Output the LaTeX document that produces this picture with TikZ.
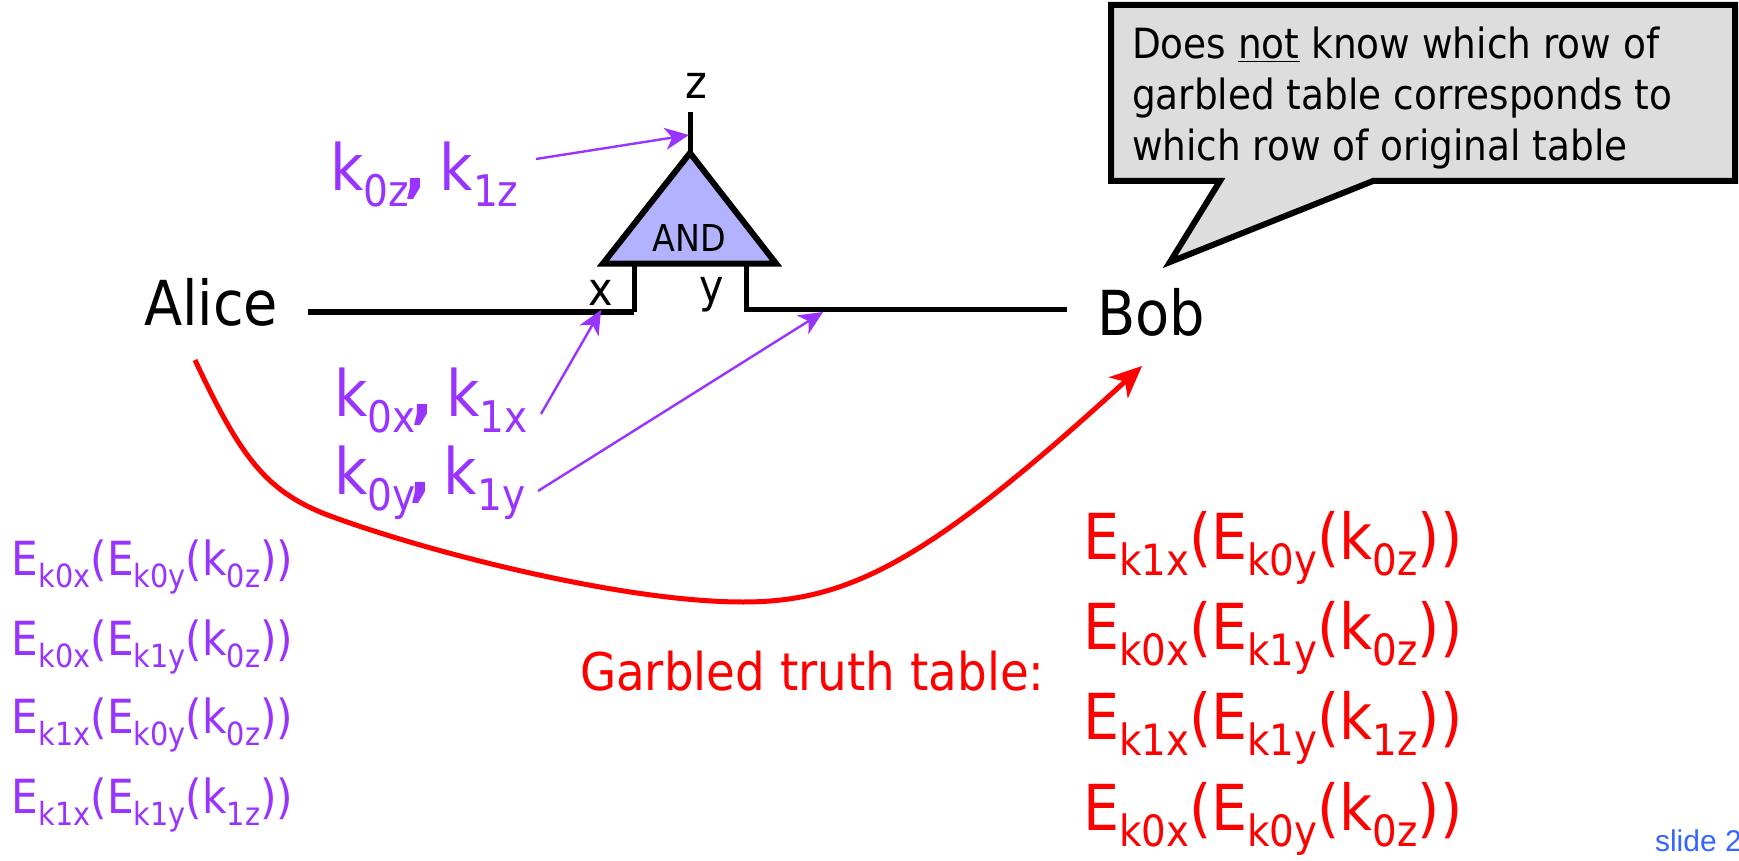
\documentclass[tikz,border=0pt]{standalone}
\usepackage{fontspec}
\usepackage{graphicx}
\usetikzlibrary{arrows.meta}
\setmainfont[FakeStretch=0.9]{DejaVu Sans}
\newfontfamily\slidefont{Liberation Sans}
\definecolor{keyc}{RGB}{153,51,255}
\definecolor{gatec}{RGB}{178,178,255}
\definecolor{notec}{RGB}{221,221,221}
\definecolor{slidec}{RGB}{51,102,255}
\newcommand{\fs}[1]{\fontsize{#1}{#1}\selectfont}
\newcommand{\lw}[1]{\raisebox{-0.26em}{\scalebox{0.68}{#1}}}
\newcommand{\Ek}[3]{E\lw{k#1}(E\lw{k#2}(k\lw{#3}))}
\newcommand{\kpair}[3]{k\lw{#1}\kern#3\textbf{,}\hspace{0.2em}k\lw{#2}}
\tikzset{
  x=1pt,y=-1pt,
  txt/.style={inner sep=0pt,outer sep=0pt,anchor=base west},
  wire/.style={draw=black,line width=5pt,line join=miter},
  keyarrow/.style={draw=keyc,line width=2.4pt,-{Stealth[length=24pt,width=22pt,inset=7pt]}},
  keytxt/.style={txt,text=keyc,font=\fs{64}},
  lefttxt/.style={txt,text=keyc,font=\fs{47}},
  righttxt/.style={txt,text=red,font=\fs{63.4}},
  wiretxt/.style={inner sep=0pt,outer sep=0pt,anchor=base,text=black,font=\fs{46}},
}
\begin{document}
\begin{tikzpicture}
\useasboundingbox (0,0) rectangle (1739,861);
% gate
\coordinate (zt) at (690,112);
\coordinate (ap) at (690,153);
\coordinate (gl) at (603,263.5);
\coordinate (gr) at (776,263.5);
\coordinate (xt) at (634,263.5);
\coordinate (xc) at (634,312);
\coordinate (xe) at (308,312);
\coordinate (yt) at (746,263.5);
\coordinate (yc) at (746,309);
\coordinate (ye) at (1067,309);
\draw[wire] (zt) -- (ap);
\draw[wire] (xt) -- (xc);
\draw[wire,line width=6pt] (xe) -- (xc);
\draw[wire] (yt) -- (yc) -- (ye);
\draw[wire,line width=6pt,fill=gatec] (ap) -- (gl) -- (gr) -- cycle;
\node[wiretxt,font=\fs{37}] (andl) at (689,251) {AND};
\node[wiretxt] (zl) at (696,99) {z};
\node[wiretxt] (xl) at (601,305) {x};
\node[wiretxt] (yl) at (712,302) {y};
% parties
\node[txt,font=\fs{62}] (alice) at (144,325) {Alice};
\node[txt,font=\fs{62}] (bob) at (1097,335) {Bob};
% keys
\node[keytxt] (kz) at (330,190) {\kpair{0z}{1z}{-0.06em}};
\node[keytxt] (kx) at (334,416) {\kpair{0x}{1x}{-0.06em}};
\node[keytxt] (ky) at (334,494) {\kpair{0y}{1y}{-0.1em}};
\coordinate (kza) at (536,159);
\coordinate (kzb) at (689,135);
\coordinate (kxa) at (541,414);
\coordinate (kxb) at (601,310);
\coordinate (kya) at (538,491);
\coordinate (kyb) at (823,312);
\draw[keyarrow] (kza) -- (kzb);
\draw[keyarrow] (kxa) -- (kxb);
\draw[keyarrow] (kya) -- (kyb);
% red curve
\coordinate (ca) at (195,360);
\coordinate (cb) at (325,514);
\coordinate (cc) at (743,602);
\coordinate (cd) at (1142,366);
\draw[draw=red,line width=5pt,-{Stealth[length=32pt,width=28pt,inset=9pt]}] (ca)
  .. controls (240,456) and (265,490) .. (cb)
  .. controls (420,550) and (620,602) .. (cc)
  .. controls (850,602) and (930,560) .. (cd);
% callout
\coordinate (n1) at (1111,5);
\coordinate (n2) at (1735,5);
\coordinate (n3) at (1735,181);
\coordinate (n4) at (1373,181);
\coordinate (n5) at (1170,262);
\coordinate (n6) at (1220,181);
\coordinate (n7) at (1111,181);
\draw[wire,line width=6pt,fill=notec] (n1) -- (n2) -- (n3) -- (n4) -- (n5) -- (n6) -- (n7) -- cycle;
\node[txt,font=\fs{41.6}] (nt1) at (1132,59) {Does \underline{not} know which row of};
\node[txt,font=\fs{41.6}] (nt2) at (1132,110) {garbled table corresponds to};
\node[txt,font=\fs{41.6}] (nt3) at (1132,161) {which row of original table};
% left table
\node[lefttxt] (l1) at (12,575) {\Ek{0x}{0y}{0z}};
\node[lefttxt] (l2) at (12,655) {\Ek{0x}{1y}{0z}};
\node[lefttxt] (l3) at (12,733) {\Ek{1x}{0y}{0z}};
\node[lefttxt] (l4) at (12,813) {\Ek{1x}{1y}{1z}};
% right table
\node[righttxt] (r1) at (1083,559) {\Ek{1x}{0y}{0z}};
\node[righttxt] (r2) at (1083,649) {\Ek{0x}{1y}{0z}};
\node[righttxt] (r3) at (1083,739) {\Ek{1x}{1y}{1z}};
\node[righttxt] (r4) at (1083,830) {\Ek{0x}{0y}{0z}};
\node[txt,text=red,font=\fs{52}] (gt) at (580,690) {Garbled truth table:};
\node[txt,text=slidec,font=\fs{30}\slidefont] (sl) at (1655,851) {slide 2};
\end{tikzpicture}
\end{document}
